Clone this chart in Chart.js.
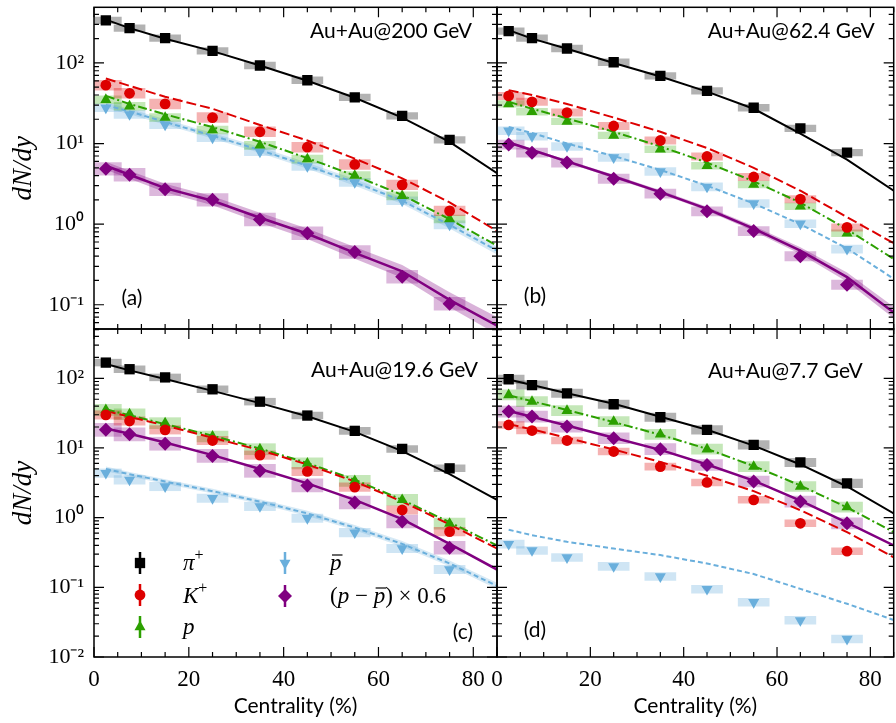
<!DOCTYPE html>
<html>
<head>
<meta charset="utf-8">
<title>dN/dy vs centrality</title>
<script src="https://cdn.jsdelivr.net/npm/chart.js@4.4.1/dist/chart.umd.min.js"></script>
<style>
  html, body { margin: 0; padding: 0; background: #fff; overflow: hidden; }
  #wrap { position: relative; width: 896px; height: 723px; overflow: hidden; background: #fff; }
  #wrap canvas { position: absolute; left: 0; top: 0; }
</style>
</head>
<body>
<div id="wrap">
  <canvas id="panelA" width="901" height="723"></canvas>
  <canvas id="panelB" width="901" height="723"></canvas>
  <canvas id="panelC" width="901" height="723"></canvas>
  <canvas id="panelD" width="901" height="723"></canvas>
</div>
<script>
// centrality bin centres (%) for the data, and the x grid of the model curves
var centrality = [2.5, 7.5, 15, 25, 35, 45, 55, 65, 75];
var modelX = [2.5, 7.5, 15, 25, 35, 45, 55, 65, 75, 85];

// axis ticks
var xTicks = [0, 20, 40, 60, 80];
var yTicks = [0.01, 0.1, 1, 10, 100];
var yTickLabels = ["10\u207B\u00B2", "10\u207B\u00B9", "10\u2070", "10\u00B9", "10\u00B2"];

// order inside every list below: pi+, K+, p, pbar, (p - pbar) x 0.6

// Au+Au 200 GeV
var pi200 = [338, 270, 203, 141, 93, 61, 37.4, 22, 11.1];
var k200 = [53, 42, 31, 21, 14, 9.0, 5.5, 3.07, 1.46];
var p200 = [35, 29, 21, 14.7, 9.5, 6.4, 4.0, 2.24, 1.16];
var pbar200 = [27.8, 23, 17.1, 11.8, 7.9, 5.2, 3.3, 1.95, 0.98];
var net200 = [4.85, 4.1, 2.7, 2.0, 1.14, 0.77, 0.45, 0.222, 0.103];
var pi200Model = [345, 270, 200, 140, 93, 60, 37, 21, 10.5, 4.3];
var k200Model = [64, 52, 38, 27, 17, 10.9, 6.5, 3.7, 1.86, 0.82];
var p200Model = [39, 31, 23, 16, 10.5, 6.6, 4.0, 2.3, 1.15, 0.54];
var pbar200Model = [30, 25, 18.5, 12.5, 8.3, 5.3, 3.3, 1.95, 0.98, 0.47];
var net200Model = [5.3, 4.1, 2.8, 1.95, 1.2, 0.76, 0.44, 0.26, 0.115, 0.055];
var sys200 = [0.10, 0.15, 0.12, 0.12, 0.20];
var pbarBand200 = [0.08, 0.08, 0.08, 0.08, 0.09, 0.09, 0.10, 0.10, 0.11, 0.12];
var netBand200 = [0.12, 0.12, 0.13, 0.14, 0.15, 0.16, 0.18, 0.20, 0.24, 0.28];

// Au+Au 62.4 GeV
var pi62 = [248, 203, 151, 102, 69, 45, 27.8, 15.4, 7.7];
var k62 = [39, 32.9, 24.2, 16.5, 10.9, 6.9, 3.85, 2.04, 0.91];
var p62 = [31, 24.8, 18.8, 12.6, 8.5, 5.3, 3.1, 1.66, 0.77];
var pbar62 = [14.4, 12.3, 9.2, 6.7, 4.5, 2.9, 1.8, 1.01, 0.49];
var net62 = [9.7, 7.7, 5.8, 3.66, 2.39, 1.44, 0.82, 0.40, 0.177];
var pi62Model = [255, 200, 150, 100, 68, 44, 27, 13.3, 6.3, 2.6];
var k62Model = [46, 40, 31, 21, 14, 8.8, 5.0, 2.6, 1.22, 0.58];
var p62Model = [33, 27, 20.5, 14, 9.2, 5.8, 3.4, 1.85, 0.86, 0.37];
var pbar62Model = [16, 13.5, 10, 7.0, 4.7, 3.0, 1.8, 1.0, 0.5, 0.21];
var net62Model = [10.3, 8.3, 6.0, 3.9, 2.5, 1.55, 0.88, 0.47, 0.22, 0.08];
var sys62 = [0.10, 0.11, 0.10, 0.12, 0.14];
var netBand62 = [0.04, 0.04, 0.04, 0.05, 0.05, 0.06, 0.08, 0.10, 0.14, 0.18];

// Au+Au 19.6 GeV
var pi19 = [168, 135, 103, 69.5, 46.2, 29.2, 17.6, 9.7, 5.1];
var k19 = [29.8, 24.4, 18.2, 12.8, 7.9, 4.6, 2.74, 1.29, 0.63];
var p19 = [35.2, 30.5, 22.7, 14.6, 9.6, 6.0, 3.37, 1.8, 0.82];
var pbar19 = [4.35, 3.49, 2.8, 1.9, 1.45, 0.98, 0.61, 0.36, 0.18];
var net19 = [18.2, 15.7, 11.5, 7.7, 4.7, 2.9, 1.65, 0.88, 0.37];
var pi19Model = [160, 130, 98, 66, 44, 28.5, 17, 9, 4.2, 1.8];
var k19Model = [34, 28, 21, 14, 9.3, 5.8, 3.3, 1.7, 0.8, 0.36];
var p19Model = [36, 29.5, 22, 15, 9.8, 6.1, 3.5, 1.8, 0.86, 0.4];
var pbar19Model = [5.0, 4.2, 3.3, 2.4, 1.7, 1.15, 0.72, 0.42, 0.22, 0.105];
var net19Model = [19, 16, 12, 7.9, 5.0, 3.1, 1.8, 0.95, 0.42, 0.18];
var sys19 = [0.12, 0.15, 0.20, 0.15, 0.24];
var pbarBand19 = [0.08, 0.08, 0.08, 0.08, 0.08, 0.09, 0.09, 0.10, 0.10, 0.11];

// Au+Au 7.7 GeV
var pi7 = [96.8, 80, 60.9, 42.4, 27.6, 18.2, 11.1, 6.2, 3.1];
var k7 = [21.4, 17.8, 12.8, 8.9, 5.4, 3.2, 1.8, 0.83, 0.33];
var p7 = [57.7, 46.3, 34.3, 23.9, 15.7, 9.6, 5.4, 2.8, 1.42];
var pbar7 = [0.417, 0.338, 0.268, 0.20, 0.143, 0.094, 0.061, 0.0336, 0.0181];
var net7 = [33.3, 28.2, 20.3, 13.8, 9.6, 5.7, 3.3, 1.7, 0.83];
var pi7Model = [96, 80, 61, 43, 28, 18.3, 10.8, 5.8, 2.8, 1.15];
var k7Model = [22, 18.5, 14, 9.5, 6.3, 4.0, 2.4, 1.28, 0.62, 0.27];
var p7Model = [57, 47, 35, 23.5, 15.5, 9.7, 5.5, 2.9, 1.4, 0.62];
var pbar7Model = [0.67, 0.56, 0.45, 0.36, 0.29, 0.22, 0.155, 0.095, 0.058, 0.034];
var net7Model = [34, 28, 21, 14, 9.4, 5.8, 3.4, 1.75, 0.85, 0.4];
var sys7 = [0.15, 0.12, 0.18, 0.14, 0.20];

// look of each species
var species = [
  {color: '#000000', box: 'rgba(0,0,0,0.30)',       band: 'rgba(0,0,0,0.2)',        style: 'rect',     radius: 7.3, rotation: 0,   dash: [],           width: 2},
  {color: '#dd0000', box: 'rgba(221,0,0,0.30)',     band: 'rgba(221,0,0,0.2)',      style: 'circle',   radius: 5.4, rotation: 0,   dash: [10, 4],      width: 2},
  {color: '#2ca000', box: 'rgba(44,170,0,0.28)',    band: 'rgba(44,170,0,0.2)',     style: 'triangle', radius: 6.4, rotation: 0,   dash: [9, 3, 2, 3], width: 2},
  {color: '#6aafdc', box: 'rgba(106,175,220,0.32)', band: 'rgba(106,175,220,0.28)', style: 'triangle', radius: 6.4, rotation: 180, dash: [5, 3],       width: 2},
  {color: '#800080', box: 'rgba(128,0,128,0.28)',   band: 'rgba(128,0,128,0.30)',   style: 'rectRot',  radius: 7,   rotation: 0,   dash: [],           width: 2.5}
];

function buildDatasets(points, models, sys, bands) {
  var sets = [];
  species.forEach(function (sp, s) {
    if (bands[s]) {
      sets.push({type: 'line', order: 4, clip: 0, fill: false, pointRadius: 0, borderWidth: 1, borderColor: 'rgba(0,0,0,0)',
        data: modelX.map(function (x, i) { return {x: x, y: models[s][i] / (1 + bands[s][i])}; })});
      sets.push({type: 'line', order: 4, clip: 0, fill: '-1', backgroundColor: sp.band, pointRadius: 0, borderWidth: 1, borderColor: 'rgba(0,0,0,0)',
        data: modelX.map(function (x, i) { return {x: x, y: models[s][i] * (1 + bands[s][i])}; })});
    }
    sets.push({type: 'bar', order: 3, clip: 0, grouped: false, barThickness: 31, backgroundColor: sp.box, borderWidth: 0,
      data: centrality.map(function (x, i) { return {x: x, y: [points[s][i] / (1 + sys[s]), points[s][i] * (1 + sys[s])]}; })});
    sets.push({type: 'line', order: 2, clip: 0, fill: false, tension: 0, pointRadius: 0,
      borderColor: sp.color, borderWidth: sp.width, borderDash: sp.dash,
      data: modelX.map(function (x, i) { return {x: x, y: models[s][i]}; })});
    sets.push({type: 'line', order: 1, clip: 0, showLine: false,
      pointStyle: sp.style, pointRadius: sp.radius, pointRotation: sp.rotation,
      pointBackgroundColor: sp.color, pointBorderColor: sp.color, pointBorderWidth: 0,
      data: centrality.map(function (x, i) { return {x: x, y: points[s][i]}; })});
  });
  return sets;
}

// inward ticks on all four sides plus the frame
var frameTicks = {
  id: 'frameTicks',
  afterDatasetsDraw: function (chart) {
    var a = chart.chartArea, ctx = chart.ctx, xs = chart.scales.x, ys = chart.scales.y;
    ctx.save();
    ctx.strokeStyle = '#000';
    ctx.lineWidth = 1.2;
    ctx.beginPath();
    for (var v = 0; v <= xs.max; v += 5) {
      var px = xs.getPixelForValue(v), len = v % 20 === 0 ? 10 : 5;
      ctx.moveTo(px, a.bottom); ctx.lineTo(px, a.bottom - len);
      ctx.moveTo(px, a.top); ctx.lineTo(px, a.top + len);
    }
    for (var e = -3; e <= 3; e++) {
      for (var m = 1; m < 10; m++) {
        var val = m * Math.pow(10, e);
        if (val < ys.min || val > ys.max) continue;
        var py = ys.getPixelForValue(val), l = m === 1 ? 10 : 5;
        ctx.moveTo(a.left, py); ctx.lineTo(a.left + l, py);
        ctx.moveTo(a.right, py); ctx.lineTo(a.right - l, py);
      }
    }
    ctx.stroke();
    ctx.lineWidth = 1.5;
    ctx.strokeRect(a.left, a.top, a.width, a.height);
    ctx.restore();
  }
};

// energy label and panel letter
var panelText = {
  id: 'panelText',
  afterDraw: function (chart, args, o) {
    var a = chart.chartArea, ctx = chart.ctx;
    ctx.save();
    ctx.fillStyle = '#000';
    ctx.font = '21px Lato';
    ctx.textBaseline = 'middle';
    ctx.textAlign = 'right';
    ctx.fillText(o.title, a.right - o.titleRight, a.top + o.titleTop);
    ctx.textAlign = 'center';
    var tx = o.tagLeft != null ? a.left + o.tagLeft : a.right - o.tagRight;
    ctx.fillText(o.tag, tx, a.bottom - o.tagBottom);
    ctx.restore();
  }
};

function markerPath(ctx, style, x, y, r, rot) {
  var rad = rot * Math.PI / 180;
  ctx.beginPath();
  if (style === 'rect') {
    var h = Math.SQRT1_2 * r;
    ctx.rect(x - h, y - h, 2 * h, 2 * h);
  } else if (style === 'circle') {
    ctx.arc(x, y, r, 0, 2 * Math.PI);
  } else if (style === 'triangle') {
    for (var k = 0; k < 3; k++) {
      var ang = rad + k * 2 * Math.PI / 3;
      var fx = x + Math.sin(ang) * r, fy = y - Math.cos(ang) * r;
      if (k === 0) ctx.moveTo(fx, fy); else ctx.lineTo(fx, fy);
    }
  } else {
    ctx.moveTo(x - r, y); ctx.lineTo(x, y - r); ctx.lineTo(x + r, y); ctx.lineTo(x, y + r);
  }
  ctx.closePath();
}

function drawParts(ctx, parts, x, y) {
  parts.forEach(function (p) {
    var kind = p[1];
    var font = kind === 's' ? '16px "Liberation Serif"' : (kind === 'r' ? '23px "Liberation Serif"' : 'italic 23px "Liberation Serif"');
    ctx.font = font;
    var dy = kind === 's' ? -10 : 0;
    ctx.fillText(p[0], x, y + dy);
    var w = ctx.measureText(p[0]).width;
    if (kind === 'b') {
      ctx.save();
      ctx.lineWidth = 1.2;
      ctx.beginPath();
      ctx.moveTo(x + 2, y - 15); ctx.lineTo(x + w + 1, y - 15);
      ctx.stroke();
      ctx.restore();
    }
    x += w;
  });
}

var legendEntries = [
  {s: 0, mx: 140, my: 563, tx: 183, ty: 570, parts: [['\u03C0', 'i'], ['+', 's']]},
  {s: 1, mx: 140, my: 595, tx: 183, ty: 603, parts: [['K', 'i'], ['+', 's']]},
  {s: 2, mx: 140, my: 627, tx: 183, ty: 634, parts: [['p', 'i']]},
  {s: 3, mx: 285, my: 563, tx: 330, ty: 570, parts: [['p', 'b']]},
  {s: 4, mx: 285, my: 596, tx: 330, ty: 603, parts: [['(', 'r'], ['p', 'i'], [' \u2212 ', 'r'], ['p', 'b'], [') \u00D7 0.6', 'r']]}
];

var speciesLegend = {
  id: 'speciesLegend',
  afterDraw: function (chart) {
    var ctx = chart.ctx;
    ctx.save();
    legendEntries.forEach(function (en) {
      var sp = species[en.s];
      ctx.strokeStyle = sp.color;
      ctx.fillStyle = sp.color;
      ctx.lineWidth = 2.5;
      ctx.beginPath();
      ctx.moveTo(en.mx, en.my - 11); ctx.lineTo(en.mx, en.my + 11);
      ctx.stroke();
      markerPath(ctx, sp.style, en.mx, en.my, sp.radius, sp.rotation);
      ctx.fill();
      ctx.fillStyle = '#000';
      ctx.strokeStyle = '#000';
      ctx.textBaseline = 'alphabetic';
      ctx.textAlign = 'left';
      drawParts(ctx, en.parts, en.tx, en.ty);
    });
    ctx.restore();
  }
};

function makePanel(id, o) {
  var plugins = [frameTicks, panelText];
  if (o.legend) plugins.push(speciesLegend);
  return new Chart(document.getElementById(id), {
    type: 'line',
    data: {datasets: buildDatasets(o.points, o.models, o.sys, o.bands)},
    plugins: plugins,
    options: {
      responsive: false,
      animation: false,
      events: [],
      layout: {padding: o.padding},
      plugins: {
        legend: {display: false},
        tooltip: {enabled: false},
        panelText: o.text
      },
      scales: {
        x: {
          type: 'linear', min: 0, max: 85, offset: false, bounds: 'data',
          display: o.showX,
          afterBuildTicks: function (s) { s.ticks = xTicks.map(function (v) { return {value: v}; }); },
          ticks: {autoSkip: false, maxRotation: 0, padding: 9, color: '#000',
            font: {family: '"Liberation Serif"', size: 23}},
          grid: {display: false, drawTicks: false},
          border: {display: false},
          title: {display: o.showX, text: 'Centrality (%)', color: '#000',
            font: {family: 'Lato', size: 21}, padding: {top: 0, bottom: 4}},
          afterFit: function (s) { s.height = o.showX ? 66 : 0; s.paddingLeft = 0; s.paddingRight = 0; }
        },
        y: {
          type: 'logarithmic', min: o.ymin, max: o.ymax, bounds: 'data',
          display: o.showY,
          afterBuildTicks: function (s) {
            s.ticks = yTicks.filter(function (v) { return v >= s.min && v <= s.max; })
              .map(function (v) { return {value: v}; });
          },
          ticks: {autoSkip: false, padding: 10, color: '#000',
            font: {family: '"Liberation Serif"', size: 22},
            callback: function (v) { return yTickLabels[yTicks.indexOf(v)]; }},
          grid: {display: false, drawTicks: false},
          border: {display: false},
          title: {display: o.showY, text: 'dN/dy', color: '#000',
            font: {family: '"Liberation Serif"', size: 27, style: 'italic'}, padding: {top: 8}},
          afterFit: function (s) { s.width = o.showY ? 94 : 0; s.paddingTop = 0; s.paddingBottom = 0; }
        }
      }
    }
  });
}

makePanel('panelA', {
  points: [pi200, k200, p200, pbar200, net200],
  models: [pi200Model, k200Model, p200Model, pbar200Model, net200Model],
  sys: sys200, bands: [null, null, null, pbarBand200, netBand200],
  padding: {left: 0, right: 404, top: 0, bottom: 394},
  showX: false, showY: true, ymin: 0.05, ymax: 490,
  text: {title: 'Au+Au@200 GeV', titleRight: 25, titleTop: 24, tag: '(a)', tagLeft: 38, tagBottom: 31}
});
makePanel('panelB', {
  points: [pi62, k62, p62, pbar62, net62],
  models: [pi62Model, k62Model, p62Model, pbar62Model, net62Model],
  sys: sys62, bands: [null, null, null, null, netBand62],
  padding: {left: 497, right: 0, top: 0, bottom: 394},
  showX: false, showY: false, ymin: 0.05, ymax: 490,
  text: {title: 'Au+Au@62.4 GeV', titleRight: 19, titleTop: 24, tag: '(b)', tagLeft: 38, tagBottom: 33}
});
makePanel('panelC', {
  points: [pi19, k19, p19, pbar19, net19],
  models: [pi19Model, k19Model, p19Model, pbar19Model, net19Model],
  sys: sys19, bands: [null, null, null, pbarBand19, null],
  padding: {left: 0, right: 404, top: 329, bottom: 0},
  showX: true, showY: true, ymin: 0.01, ymax: 510, legend: true,
  text: {title: 'Au+Au@19.6 GeV', titleRight: 19, titleTop: 41, tag: '(c)', tagRight: 34, tagBottom: 25}
});
makePanel('panelD', {
  points: [pi7, k7, p7, pbar7, net7],
  models: [pi7Model, k7Model, p7Model, pbar7Model, net7Model],
  sys: sys7, bands: [null, null, null, null, null],
  padding: {left: 497, right: 0, top: 329, bottom: 0},
  showX: true, showY: false, ymin: 0.01, ymax: 510,
  text: {title: 'Au+Au@7.7 GeV', titleRight: 31, titleTop: 42, tag: '(d)', tagLeft: 38, tagBottom: 27}
});
</script>
</body>
</html>
